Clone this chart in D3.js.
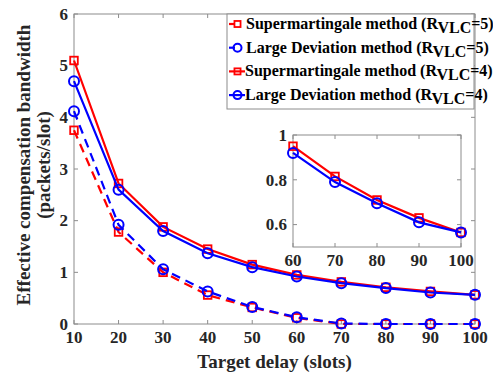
<!DOCTYPE html>
<html>
<head>
<meta charset="utf-8">
</head>
<body style="margin:0;background:#fff">
<svg id="chart" width="493" height="374" font-family="Times New Roman, Liberation Serif, Tinos, serif" font-weight="bold"></svg>
<script src="https://cdn.jsdelivr.net/npm/d3@7.9.0/dist/d3.min.js"></script>
<script>
// --- data ---
const delays = [10, 20, 30, 40, 50, 60, 70, 80, 90, 100];
const superR5 = [5.1, 2.72, 1.88, 1.45, 1.15, 0.95, 0.815, 0.71, 0.63, 0.565];
const ldR5 = [4.7, 2.6, 1.8, 1.37, 1.1, 0.92, 0.79, 0.695, 0.61, 0.565];
const superR4 = [3.75, 1.78, 1.0, 0.56, 0.32, 0.12, 0.0, 0.0, 0.0, 0.0];
const ldR4 = [4.12, 1.92, 1.06, 0.63, 0.33, 0.13, 0.01, 0.0, 0.0, 0.0];
const xTicks = [10, 20, 30, 40, 50, 60, 70, 80, 90, 100];
const yTicks = [0, 1, 2, 3, 4, 5, 6];
const insetXTicks = [60, 70, 80, 90, 100];
const insetYTicks = [0.6, 0.8, 1];
const legendLabels = ['Supermartingale method (R', 'Large Deviation method (R', 'Supermartingale method (R', 'Large Deviation method (R'];
const legendR = ['=5)', '=5)', '=4)', '=4)'];

const series = [
  { values: superR4, color: '#ff0000', marker: 'square', dashed: true },
  { values: ldR4, color: '#0000ff', marker: 'circle', dashed: true },
  { values: superR5, color: '#ff0000', marker: 'square', dashed: false },
  { values: ldR5, color: '#0000ff', marker: 'circle', dashed: false },
];

const svg = d3.select('#chart');
const axisColor = '#8c8c8c';
const textColor = '#262626';
const FONT = 'Times New Roman, Liberation Serif, Tinos, serif';

function label(g, str, size) {
  return g.append('text').attr('font-family', FONT).attr('font-weight', 'bold')
    .attr('font-size', size).attr('fill', textColor).text(str);
}

// --- main plot ---
const plot = { left: 74, right: 475, top: 14, bottom: 324 };
const x = d3.scaleLinear().domain([10, 100]).range([plot.left, plot.right]);
const y = d3.scaleLinear().domain([0, 6]).range([plot.bottom, plot.top]);

function drawFrame(g, xs, ys, xt, yt, fontSize) {
  const [x0, x1] = xs.range();
  const [y0, y1] = ys.range();
  g.append('rect').attr('x', x0).attr('y', y1).attr('width', x1 - x0).attr('height', y0 - y1)
    .attr('fill', 'none').attr('stroke', axisColor).attr('stroke-width', 1);
  const tl = 4;
  xt.forEach(t => {
    g.append('line').attr('x1', xs(t)).attr('x2', xs(t)).attr('y1', y0).attr('y2', y0 - tl).attr('stroke', axisColor);
    g.append('line').attr('x1', xs(t)).attr('x2', xs(t)).attr('y1', y1).attr('y2', y1 + tl).attr('stroke', axisColor);
    label(g, t, fontSize).attr('x', xs(t)).attr('y', y0 + fontSize + 2).attr('text-anchor', 'middle');
  });
  yt.forEach(t => {
    g.append('line').attr('x1', x0).attr('x2', x0 + tl).attr('y1', ys(t)).attr('y2', ys(t)).attr('stroke', axisColor);
    g.append('line').attr('x1', x1).attr('x2', x1 - tl).attr('y1', ys(t)).attr('y2', ys(t)).attr('stroke', axisColor);
    label(g, t, fontSize).attr('x', x0 - 6).attr('y', ys(t) + fontSize * 0.34).attr('text-anchor', 'end');
  });
}

function drawMarker(g, type, cx, cy, color, scale = 1) {
  if (type === 'square') {
    const h = 3.8 * scale;
    g.append('rect').attr('x', cx - h).attr('y', cy - h).attr('width', 2 * h).attr('height', 2 * h)
      .attr('fill', 'none').attr('stroke', color).attr('stroke-width', 1.8);
  } else {
    g.append('circle').attr('cx', cx).attr('cy', cy).attr('r', 5 * scale)
      .attr('fill', 'none').attr('stroke', color).attr('stroke-width', 2);
  }
}

function drawSeries(g, xs, ys, xsData, s) {
  const pts = xsData.map(d => [d, s.values[delays.indexOf(d)]]);
  const line = d3.line().x(d => xs(d[0])).y(d => ys(d[1]));
  g.append('path').attr('d', line(pts)).attr('fill', 'none').attr('stroke', s.color)
    .attr('stroke-width', 2.2).attr('stroke-dasharray', s.dashed ? '9,6' : null);
  pts.forEach(p => drawMarker(g, s.marker, xs(p[0]), ys(p[1]), s.color));
}

const main = svg.append('g');
drawFrame(main, x, y, xTicks, yTicks, 17);
series.forEach(s => drawSeries(main, x, y, delays, s));

// axis labels
label(svg, 'Target delay (slots)', 19).attr('x', (plot.left + plot.right) / 2).attr('y', 368).attr('text-anchor', 'middle');
label(svg, 'Effective compensation bandwidth', 19)
  .attr('transform', `translate(30, ${(plot.top + plot.bottom) / 2 - 4}) rotate(-90)`).attr('text-anchor', 'middle');
label(svg, '(packets/slot)', 19)
  .attr('transform', `translate(50, ${(plot.top + plot.bottom) / 2 - 4}) rotate(-90)`).attr('text-anchor', 'middle');

// --- inset ---
const ix = d3.scaleLinear().domain([60, 100]).range([293, 461]);
const iy = d3.scaleLinear().domain([0.5, 1]).range([247, 135]);
const inset = svg.append('g');
inset.append('rect').attr('x', 293).attr('y', 135).attr('width', 168).attr('height', 112).attr('fill', '#fff');
drawFrame(inset, ix, iy, insetXTicks, insetYTicks, 17);
const insetDelays = delays.filter(d => d >= 60);
series.filter(s => !s.dashed).forEach(s => drawSeries(inset, ix, iy, insetDelays, s));

// --- legend ---
const leg = svg.append('g');
leg.append('rect').attr('x', 227).attr('y', 14).attr('width', 247).attr('height', 95)
  .attr('fill', '#fff').attr('stroke', axisColor);
const legSeries = [series[2], series[3], series[0], series[1]];
legSeries.forEach((s, i) => {
  const ly = 24 + i * 23.7;
  const dashed = i < 2;
  leg.append('line').attr('x1', 229).attr('x2', dashed ? 235 : 245).attr('y1', ly).attr('y2', ly)
    .attr('stroke', s.color).attr('stroke-width', 2.2);
  drawMarker(leg, s.marker, 237.5, ly, s.color, 0.8);
  const t = label(leg, null, 16).attr('x', dashed ? 246 : 245).attr('y', ly + 5).attr('fill', '#000');
  t.append('tspan').text(legendLabels[i]);
  t.append('tspan').attr('dy', 4).text('VLC');
  t.append('tspan').attr('dy', -4).text(legendR[i]);
});
</script>
</body>
</html>
